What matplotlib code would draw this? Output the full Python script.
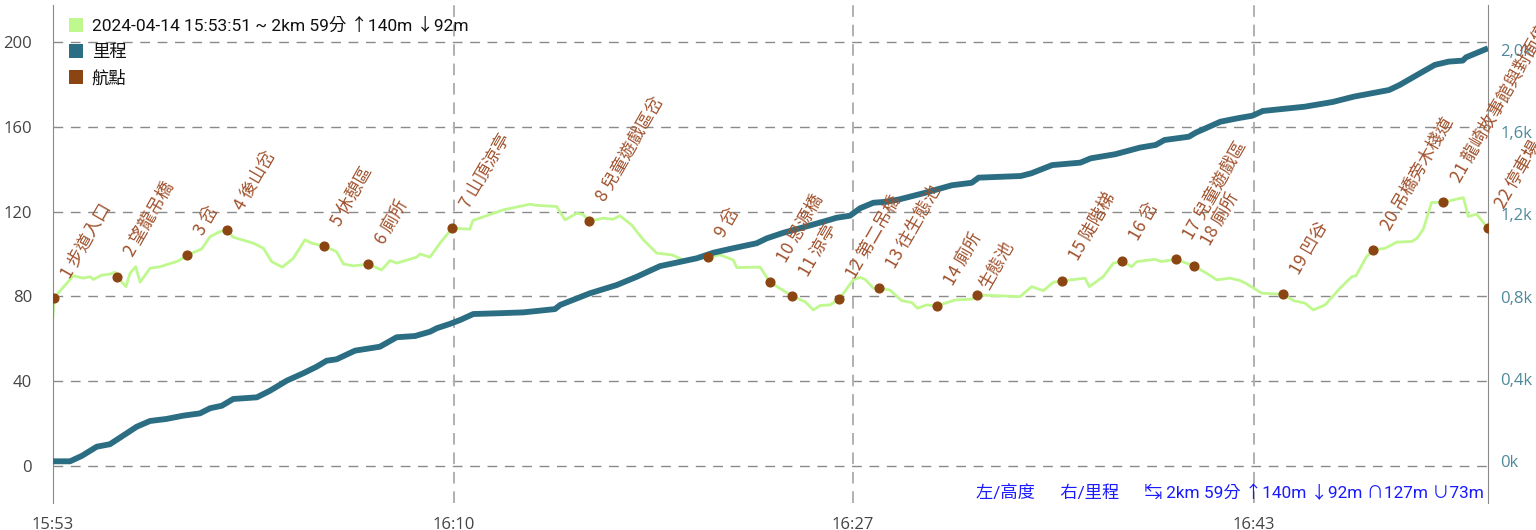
import matplotlib
matplotlib.use("Agg")
import matplotlib.pyplot as plt
from matplotlib.lines import Line2D

# ---------------- data (minutes from 15:53:51) ----------------
elev_t = [0.00, 0.04, 0.83, 1.25, 1.52, 1.66, 2.00, 2.34, 2.55, 2.64, 3.00, 3.17, 3.40, 3.58,
          3.99, 4.40, 5.15, 5.52, 6.11, 6.46, 6.87, 7.17, 7.41, 8.24, 8.65, 8.99, 9.43, 9.88,
          10.36, 10.64, 11.15, 11.66, 11.94, 12.35, 12.96, 13.51, 13.86, 14.13, 14.95, 15.09,
          15.50, 15.91, 16.42, 17.14, 17.26, 18.51, 19.61, 19.82, 20.71, 21.05, 21.53, 21.79,
          22.05, 22.63, 23.02, 23.31, 23.79, 24.27, 24.82, 25.44, 25.92, 26.53, 26.94, 27.42,
          27.97, 28.11, 29.07, 29.48, 30.40, 30.92, 31.26, 31.54, 31.95, 32.33, 32.90, 33.18,
          33.39, 33.73, 33.97, 34.41, 34.89, 35.31, 35.54, 35.92, 36.33, 37.09, 37.77, 38.00,
          39.76, 40.24, 40.72, 41.13, 41.50, 42.43, 42.61, 43.18, 43.59, 43.94, 44.35, 44.56,
          45.31, 45.56, 46.16, 46.91, 47.43, 47.85, 48.39, 48.80, 49.08, 49.70, 50.58, 51.00,
          51.48, 51.82, 52.30, 52.92, 53.40, 53.57, 54.01, 54.29, 54.77, 55.25, 55.86, 56.08,
          56.34, 56.68, 57.16, 57.99, 58.19, 58.53, 59.00]
elev_m = [70.5, 79.3, 89.7, 88.6, 89.3, 88.0, 90.0, 90.5, 91.4, 89.2, 84.6, 91.0, 94.0, 86.7,
          93.3, 94.0, 96.7, 99.4, 102.4, 108.2, 110.6, 111.2, 107.9, 105.1, 102.7, 96.4, 93.8, 98.0,
          106.7, 105.1, 103.7, 101.1, 95.3, 94.4, 95.2, 92.5, 96.9, 95.7, 98.5, 100.0,
          98.5, 105.1, 112.2, 111.7, 115.8, 120.8, 123.5, 123.0, 122.4, 116.1, 119.2, 118.7,
          115.5, 116.9, 116.4, 118.0, 113.7, 106.7, 100.4, 99.6, 97.2, 98.0, 98.5, 99.6,
          97.2, 93.6, 93.8, 86.7, 80.1, 77.5, 73.6, 75.7, 76.0, 78.8, 87.8, 89.0,
          88.0, 83.9, 83.9, 83.0, 78.0, 77.1, 74.4, 76.0, 75.5, 78.3, 78.7, 80.7,
          79.9, 84.6, 82.7, 86.7, 87.3, 88.6, 84.6, 89.3, 95.6, 96.7, 94.0, 96.4,
          97.5, 96.4, 97.5, 94.4, 90.9, 87.8, 88.6, 87.5, 85.9, 81.5, 81.0, 78.0,
          76.8, 73.6, 76.0, 83.9, 89.3, 89.7, 98.8, 101.9, 102.7, 105.6, 105.9, 107.4,
          111.7, 124.3, 124.4, 126.6, 117.7, 118.8, 112.2]

dist_t = [0.00, 0.70, 1.18, 1.80, 2.34, 2.82, 3.44, 3.99, 4.67, 5.36, 6.04, 6.46, 6.94, 7.41,
          8.38, 8.92, 9.61, 10.29, 10.84, 11.25, 11.66, 12.42, 13.44, 14.13, 14.88, 15.50, 15.78,
          16.32, 16.74, 17.28, 18.38, 19.34, 20.64, 20.85, 22.08, 23.18, 24.00, 24.96, 25.64,
          26.47, 27.15, 27.97, 28.93, 29.35, 30.03, 30.71, 31.67, 32.22, 32.77, 33.18, 33.73,
          34.28, 34.82, 35.78, 36.96, 37.77, 38.06, 39.79, 40.22, 41.08, 42.24, 42.67, 43.68,
          44.69, 45.34, 45.70, 46.70, 46.99, 48.00, 48.72, 49.31, 49.74, 51.47, 52.62, 53.49,
          54.93, 55.36, 56.08, 56.81, 57.38, 57.96, 58.10, 59.00]
dist_m = [0, 0, 26, 71, 83, 120, 168, 196, 206, 222, 233, 258, 270, 303,
          311, 343, 392, 428, 460, 489, 496, 538, 557, 603, 609, 630, 647,
          668, 687, 716, 720, 724, 740, 760, 817, 857, 897, 949, 966,
          987, 1014, 1036, 1060, 1084, 1111, 1133, 1165, 1184, 1194, 1230, 1257,
          1262, 1274, 1303, 1342, 1354, 1379, 1387, 1400, 1440, 1452, 1473, 1493,
          1525, 1538, 1562, 1578, 1598, 1651, 1668, 1680, 1703, 1724, 1747, 1773,
          1805, 1829, 1878, 1927, 1943, 1948, 1964, 2008]

wp_t = [0.04, 2.64, 5.52, 7.17, 11.15, 12.96, 16.42, 22.05, 26.94, 29.48, 30.40, 32.33,
        33.97, 36.33, 38.00, 41.50, 43.94, 46.16, 46.91, 50.58, 54.29, 57.16, 59.00]
wp_m = [79.3, 89.2, 99.4, 111.2, 103.7, 95.2, 112.2, 115.5, 98.5, 86.7, 80.1, 78.8,
        83.9, 75.5, 80.7, 87.3, 96.7, 97.5, 94.4, 81.0, 101.9, 124.4, 112.2]
wp_names = ["1 步道入口", "2 望龍吊橋", "3 岔", "4 後山岔", "5 休憩區", "6 廁所",
            "7 山頂涼亭", "8 兒童遊戲區岔", "9 岔", "10 思源橋", "11 涼亭", "12 第二吊橋",
            "13 往生態池", "14 廁所", "生態池", "15 陡階梯", "16 岔", "17 兒童遊戲區",
            "18 廁所", "19 凹谷", "20 吊橋旁木棧道", "21 龍崎故事館與對面停車場", "22 停車場"]

x_ticks = [0, 16.49, 32.89, 49.38]
x_labels = ["15:53", "16:10", "16:27", "16:43"]
elev_ticks = [0, 40, 80, 120, 160, 200]
dist_ticks = [0, 400, 800, 1200, 1600, 2000]
dist_labels = ["0k", "0,4k", "0,8k", "1,2k", "1,6k", "2,0k"]

legend_labels = ["2024-04-14 15:53:51 ~ 2km 59分 ↑140m ↓92m", "里程", "航點"]
summary = "左/高度      右/里程      ↹ 2km 59分 ↑140m ↓92m ∩127m ∪73m"

# ---------------- style ----------------
C_ELEV = "#bff88e"
C_DIST = "#2b6d82"
C_WP = "#8b4513"
C_LBL = "#a0522d"
C_RIGHT = "#4e8a9c"
CJK = ["Noto Sans CJK TC", "DejaVu Sans"]
ROB = ["Roboto", "Noto Sans CJK TC", "DejaVu Sans"]
OPEN = ["Open Sans", "DejaVu Sans"]

fig = plt.figure(figsize=(15.36, 5.30), dpi=100)
W, H = 1536, 530
ax = fig.add_axes([53 / W, 1 - 503 / H, (1488 - 53) / W, (503 - 5) / H])
ax2 = ax.twinx()
ax3 = ax.twinx()

ax.set_xlim(0, 59)
ax.set_ylim(-17.45, 217.45)
ax2.set_ylim(-202.7, 2218.3)
ax3.set_ylim(ax.get_ylim())

# grid
for v in elev_ticks:
    ax.axhline(v, color="#8a8a8a", lw=1.0, dashes=(7, 5.5), zorder=0)
for v in x_ticks[1:]:
    ax.axvline(v, color="#b0b0b0", lw=1.4, dashes=(6, 4), zorder=0)

# elevation
ax.plot(elev_t, elev_m, color=C_ELEV, lw=2.0, solid_joinstyle="round", zorder=2)
# distance
ax2.plot(dist_t, dist_m, color=C_DIST, lw=4.2, solid_capstyle="butt", zorder=2)
# waypoints
ax3.plot(wp_t, wp_m, "o", color=C_WP, ms=6.3, ls="none", zorder=5)
for t, m, name in zip(wp_t, wp_m, wp_names):
    off = (16, 19) if name[0].isdigit() else (11, 4)
    ax3.annotate(name, (t, m), xytext=off, textcoords="offset pixels",
                 rotation=60, rotation_mode="anchor", ha="left", va="baseline",
                 color=C_LBL, fontsize=12.5, family=CJK, annotation_clip=False, zorder=6)

# axes styling
ax.set_xticks(x_ticks)
ax.set_xticklabels(x_labels, family=OPEN, fontsize=12, color="#444444")
ax.set_yticks(elev_ticks)
ax.set_yticklabels([str(v) for v in elev_ticks], family=OPEN, fontsize=12, color="#444444")
ax.tick_params(axis="both", length=0)
ax.tick_params(axis="y", pad=15)
ax.tick_params(axis="x", pad=10)
ax2.set_yticks(dist_ticks)
ax2.set_yticklabels(dist_labels, family=OPEN, fontsize=12, color=C_RIGHT)
ax2.tick_params(axis="y", length=0, pad=9)
ax3.set_yticks([])
ax3.tick_params(length=0)

for a in (ax, ax2, ax3):
    for s in a.spines.values():
        s.set_visible(False)
ax.spines["left"].set_visible(True)
ax.spines["left"].set_color("#8a8a8a")
ax.spines["right"].set_visible(True)
ax.spines["right"].set_color("#8a8a8a")

# legend
handles = [Line2D([], [], marker="s", ls="none", ms=9.5, color=c, markeredgewidth=0)
           for c in (C_ELEV, C_DIST, C_WP)]
leg = ax3.legend(handles, legend_labels, loc="upper left", bbox_to_anchor=(0.004, 0.995),
                 frameon=False, handlelength=0.8, handletextpad=0.5, labelspacing=0.58,
                 borderaxespad=0.2, prop={"family": ROB, "size": 12.5})
for txt in leg.get_texts():
    txt.set_color("#111111")

# summary text
ax3.text(0.9972, 0.021, summary, transform=ax3.transAxes, ha="right", va="center",
         color="#1a1aff", fontsize=12.4, family=ROB, zorder=6)

fig.savefig("out.png", dpi=100)
